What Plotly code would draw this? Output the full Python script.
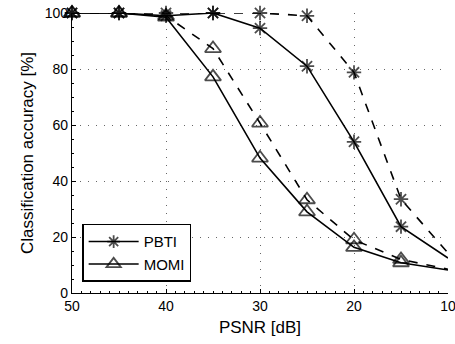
import plotly.graph_objects as go

psnr = [50, 45, 40, 35, 30, 25, 20, 15, 10]
pbti_solid = [100, 100, 99, 100, 94.6, 81, 54, 23.7, 12.5]
pbti_dashed = [100, 100, 100, 100, 100, 99, 78.8, 33.5, 14.3]
momi_solid = [100, 100, 98.5, 77.2, 48.2, 29, 16.3, 10.8, 8.2]
momi_dashed = [100, 100, 99, 87.3, 60.7, 33.3, 19, 12, 8.5]
x_ticks = [50, 40, 30, 20, 10]
y_ticks = [0, 20, 40, 60, 80, 100]

star_sizes = [12] * (len(psnr) - 1) + [0]
tri_sizes = [14] * (len(psnr) - 1) + [0]

fig = go.Figure()

def add(y, name, dash, symbol, sizes, show):
    fig.add_trace(go.Scatter(
        x=psnr, y=y, name=name, mode="lines+markers",
        line=dict(color="black", width=1.6, dash=dash),
        marker=dict(symbol=symbol, size=sizes, color="black",
                    line=dict(color="black", width=1.8)),
        showlegend=show, cliponaxis=False,
    ))

add(pbti_dashed, "PBTI", "dash", "asterisk-open", star_sizes, False)
add(momi_dashed, "MOMI", "dash", "triangle-up-open", tri_sizes, False)
add(pbti_solid, "PBTI", "solid", "asterisk-open", star_sizes, True)
add(momi_solid, "MOMI", "solid", "triangle-up-open", tri_sizes, True)

font = dict(family="Liberation Sans, Arial, Helvetica, sans-serif", size=14, color="black")
grid = dict(showgrid=True, gridcolor="#666666", griddash="1px,7px", gridwidth=1)

fig.update_layout(
    width=455, height=344,
    margin=dict(l=72, r=7, t=13, b=51),
    paper_bgcolor="white", plot_bgcolor="white",
    font=font,
    legend=dict(x=0.027, y=0.04, xanchor="left", yanchor="bottom",
                bgcolor="white", bordercolor="black", borderwidth=1.5,
                font=dict(size=15), itemwidth=50, tracegroupgap=0),
    xaxis=dict(
        range=[50, 10], autorange=False, automargin=False,
        tickvals=x_ticks, ticks="inside", ticklen=4, tickcolor="black",
        ticklabeloverflow="allow",
        showline=True, linecolor="black", linewidth=1.2,
        zeroline=False, **grid,
        minor=dict(dtick=1, ticks="inside", ticklen=2, tickcolor="black", showgrid=False),
        title=dict(text="PSNR [dB]", standoff=8),
    ),
    yaxis=dict(
        range=[0, 100], autorange=False, automargin=False,
        tickvals=y_ticks, ticks="inside", ticklen=4, tickcolor="black",
        ticklabeloverflow="allow",
        showline=True, linecolor="black", linewidth=1.2,
        zeroline=False, **grid,
        minor=dict(dtick=5, ticks="inside", ticklen=2, tickcolor="black", showgrid=False),
        title=dict(text="Classification accuracy [%]", standoff=6),
    ),
)

fig.write_html("out.html", config={"displayModeBar": False},
               post_script="document.body.style.margin='0';document.body.style.overflow='hidden';")
